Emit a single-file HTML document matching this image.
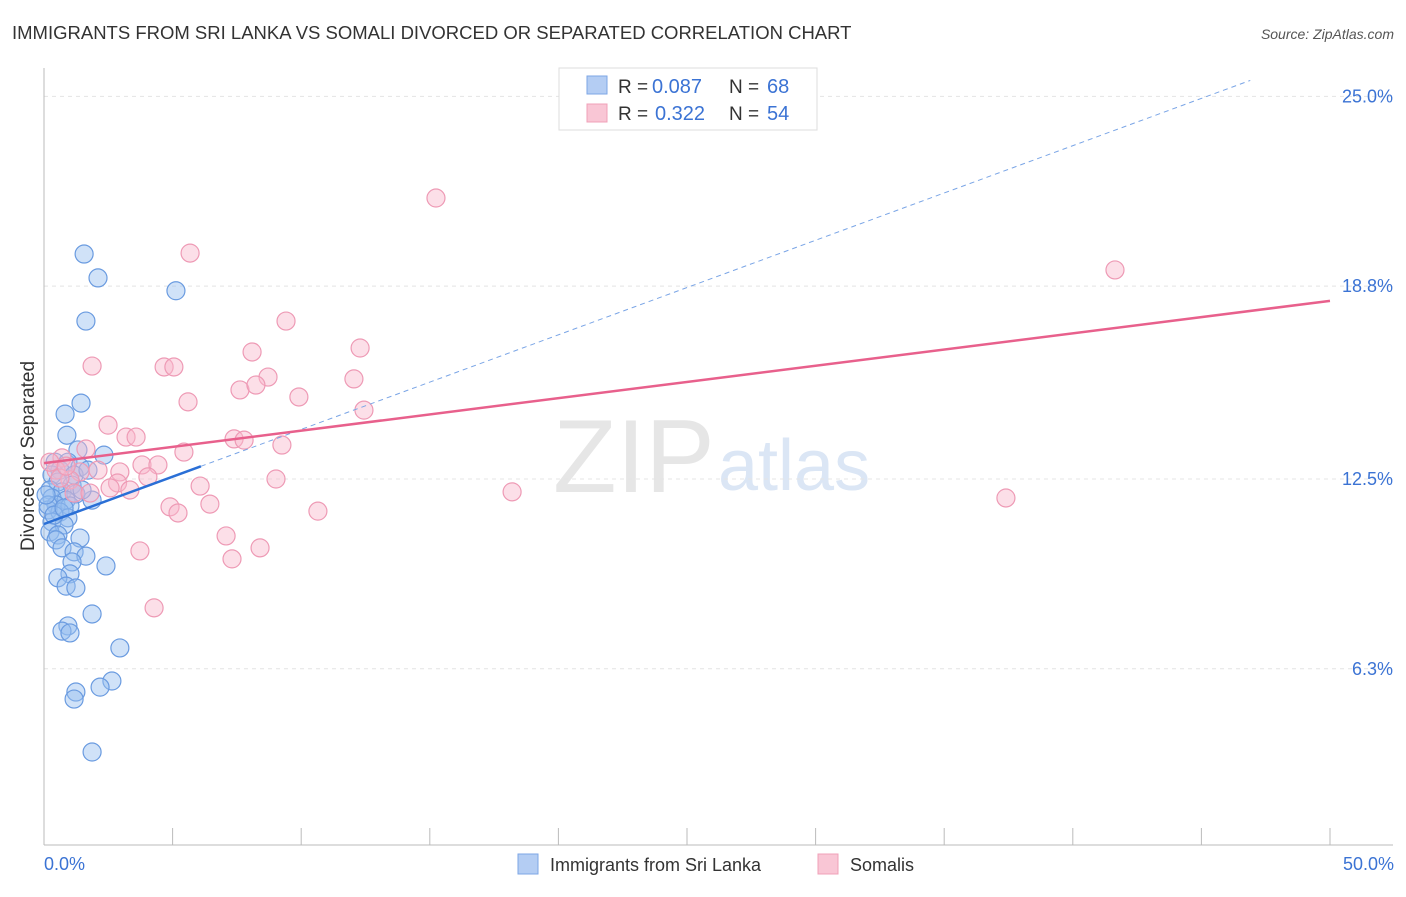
<!DOCTYPE html>
<html><head><meta charset="utf-8"><style>
body{margin:0;background:#fff;font-family:"Liberation Sans",sans-serif;}
svg text{font-family:"Liberation Sans",sans-serif;}
</style></head><body>
<svg id="c" width="1406" height="892" xmlns="http://www.w3.org/2000/svg">
<text x="12" y="39" font-size="18.5" fill="#333">IMMIGRANTS FROM SRI LANKA VS SOMALI DIVORCED OR SEPARATED CORRELATION CHART</text>
<text x="1394" y="39" font-size="14" fill="#555" font-style="italic" text-anchor="end">Source: ZipAtlas.com</text>
<text x="553" y="492" font-size="104" fill="#e6e6e6" font-family="Liberation Serif">ZIP</text>
<text x="718" y="490" font-size="72" fill="#dbe6f5">atlas</text>
<g id="grid"></g><g id="pts"></g><g id="lines"></g>
<text transform="translate(34,456) rotate(-90)" font-size="19" fill="#333" text-anchor="middle">Divorced or Separated</text>
<text x="44" y="870" font-size="18" fill="#3b73d4">0.0%</text>
<text x="1394" y="870" font-size="18" fill="#3b73d4" text-anchor="end">50.0%</text>
<g>
<rect x="559" y="68" width="258" height="62" fill="#fff" stroke="#ddd"/>
<rect x="587" y="76" width="20" height="18" fill="#b4cdf3" stroke="#7da6e6"/>
<rect x="587" y="104" width="20" height="18" fill="#f9c6d5" stroke="#f0a0b8"/>
<text x="618" y="93" font-size="19" fill="#333">R =</text>
<text x="652" y="93" font-size="20" fill="#3b73d4">0.087</text>
<text x="729" y="93" font-size="19" fill="#333">N =</text>
<text x="767" y="93" font-size="20" fill="#3b73d4">68</text>
<text x="618" y="120" font-size="19" fill="#333">R =</text>
<text x="655" y="120" font-size="20" fill="#3b73d4">0.322</text>
<text x="729" y="120" font-size="19" fill="#333">N =</text>
<text x="767" y="120" font-size="20" fill="#3b73d4">54</text>
</g>
<g>
<rect x="518" y="854" width="20" height="20" fill="#b4cdf3" stroke="#7da6e6"/>
<text x="550" y="871" font-size="18" fill="#333">Immigrants from Sri Lanka</text>
<rect x="818" y="854" width="20" height="20" fill="#f9c6d5" stroke="#f0a0b8"/>
<text x="850" y="871" font-size="18" fill="#333">Somalis</text>
</g>
</svg>
<script>
const yTicks=[25.0,18.8,12.5,6.3];
const yTickLabels=["25.0%","18.8%","12.5%","6.3%"];
const blueX=[1.56,2.10,5.13,1.63,1.44,0.82,0.89,1.32,2.33,0.43,0.93,1.40,0.62,0.31,1.17,0.54,1.09,0.23,0.70,1.24,1.87,0.31,0.86,0.47,1.01,0.16,0.62,0.93,0.31,0.78,0.23,0.54,1.40,0.47,0.70,1.17,1.63,2.41,1.09,1.01,0.54,0.86,1.24,1.87,0.93,0.70,1.01,2.95,2.64,2.18,1.24,1.17,1.87,0.16,0.39,0.08,1.48,0.78,1.71];
const blueY=[19.85,19.07,18.65,17.66,14.98,14.62,13.93,13.45,13.28,13.05,13.05,12.89,12.79,12.63,12.63,12.40,12.30,12.14,12.08,12.01,11.81,11.88,11.81,11.65,11.62,11.49,11.42,11.23,11.10,11.00,10.77,10.67,10.57,10.51,10.25,10.12,9.98,9.66,9.79,9.40,9.27,9.00,8.94,8.09,7.70,7.53,7.47,6.98,5.90,5.70,5.54,5.31,3.58,11.65,11.32,11.98,12.14,11.55,12.79];
const pinkX=[15.24,5.68,41.64,9.41,12.29,8.09,1.87,4.67,5.05,8.71,12.05,7.62,8.24,9.91,5.60,12.44,2.49,3.19,3.58,7.39,7.78,9.25,1.63,5.44,0.70,3.81,4.43,0.47,2.10,1.40,2.95,4.04,9.02,1.01,2.86,6.07,2.57,3.34,18.20,1.17,1.79,37.40,6.45,4.90,5.21,10.65,7.08,8.40,3.73,7.31,4.28,0.23,0.62,0.86];
const pinkY=[21.68,19.88,19.33,17.66,16.78,16.65,16.19,16.16,16.16,15.83,15.77,15.41,15.57,15.18,15.02,14.75,14.26,13.87,13.87,13.81,13.77,13.61,13.48,13.38,13.19,12.96,12.96,12.79,12.79,12.73,12.73,12.57,12.50,12.47,12.37,12.27,12.21,12.14,12.08,12.04,12.04,11.88,11.68,11.59,11.39,11.45,10.64,10.25,10.15,9.89,8.29,13.05,12.53,12.92];
const blueFit=[11.03,0.309];
const pinkFit=[13.02,0.106];
const X=v=>44+v/50*1286;
const Y=v=>479-(v-12.5)/6.25*191.3;
const NS="http://www.w3.org/2000/svg";
function mk(t,a,p){const e=document.createElementNS(NS,t);for(const k in a)e.setAttribute(k,a[k]);p.appendChild(e);return e;}
const grid=document.getElementById('grid');
yTicks.forEach((t,i)=>{
 const l=mk('line',{x1:44,x2:1393,y1:Y(t),y2:Y(t),stroke:'#e4e4e4','stroke-dasharray':'4,4'},grid);
 
 
 const tx=mk('text',{x:1393,y:Y(t)+6,'font-size':18,fill:'#3b73d4','text-anchor':'end'},grid);
 tx.textContent=yTickLabels[i];
 
 
});
const ax=mk('line',{x1:44,x2:44,y1:68,y2:845,stroke:'#bbb'},grid);


const bx=mk('line',{x1:44,x2:1393,y1:845,y2:845,stroke:'#bbb'},grid);


for(let i=0;i<=10;i++){const t=mk('line',{x1:X(i*5),x2:X(i*5),y1:828,y2:845,stroke:'#bbb'},grid);
 
 }
const pts=document.getElementById('pts');
blueX.forEach((x,i)=>{const c=mk('circle',{cx:X(x),cy:Y(blueY[i]),r:9,fill:'rgba(150,190,240,0.45)',stroke:'#6a9be0','stroke-width':1.2},pts);
 
 });
pinkX.forEach((x,i)=>{const c=mk('circle',{cx:X(x),cy:Y(pinkY[i]),r:9,fill:'rgba(248,185,205,0.45)',stroke:'#ee9ab5','stroke-width':1.2},pts);
 
 });
const lines=document.getElementById('lines');
const bd=mk('line',{x1:X(6.1),y1:Y(blueFit[0]+blueFit[1]*6.1),x2:X(46.9),y2:Y(blueFit[0]+blueFit[1]*46.9),stroke:'#7aa5e6','stroke-width':1,'stroke-dasharray':'5,4'},lines);


const bl=mk('line',{x1:X(0),y1:Y(blueFit[0]),x2:X(6.1),y2:Y(blueFit[0]+blueFit[1]*6.1),stroke:'#2a6fd6','stroke-width':2.5},lines);


const pl=mk('line',{x1:X(0),y1:Y(pinkFit[0]),x2:X(50),y2:Y(pinkFit[0]+pinkFit[1]*50),stroke:'#e8608c','stroke-width':2.5},lines);


</script>
</body></html>
